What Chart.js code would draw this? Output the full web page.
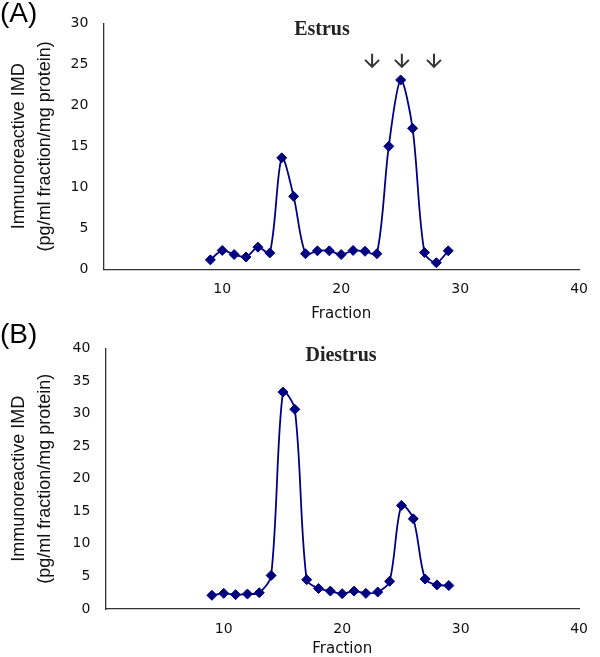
<!DOCTYPE html>
<html>
<head>
<meta charset="utf-8">
<title>Immunoreactive IMD - Estrus / Diestrus</title>
<script src="https://cdn.jsdelivr.net/npm/chart.js@4.4.1/dist/chart.umd.min.js"></script>
<style>
  html, body { margin: 0; padding: 0; background: #fff; }
  body { width: 600px; height: 657px; position: relative; overflow: hidden; font-family: "Liberation Sans", Arial, sans-serif; }
  canvas { position: absolute; left: 0; }
  #chartA { top: 0; }
  #chartB { top: 325px; }
  .panel { position: absolute; left: 0; font-size: 28px; line-height: 1; color: #000; }
  .title { position: absolute; transform: translateX(-50%); white-space: nowrap; line-height: 1;
           font-family: "Liberation Serif", "Times New Roman", serif; font-weight: bold; font-size: 20px; color: #222; }
</style>
</head>
<body>
<canvas id="chartA" width="600" height="325"></canvas>
<canvas id="chartB" width="600" height="332"></canvas>
<div class="panel" style="top:-1px">(A)</div>
<div class="panel" style="top:320px">(B)</div>
<div class="title" style="left:322px; top:18px">Estrus</div>
<div class="title" style="left:341px; top:344px">Diestrus</div>
<script>
// fractions collected (x)
const fractions = [9, 10, 11, 12, 13, 14, 15, 16, 17, 18, 19, 20, 21, 22, 23, 24, 25, 26, 27, 28, 29];

// immunoreactive IMD, pg/ml fraction / mg protein
const estrus = [1.15, 2.3, 1.8, 1.5, 2.7, 2.0, 13.6, 8.9, 1.9, 2.25, 2.25, 1.8, 2.3, 2.2, 1.9, 15.0, 23.1, 17.2, 2.05, 0.8, 2.25];
const diestrus = [2.1, 2.4, 2.2, 2.3, 2.5, 5.15, 33.3, 30.65, 4.5, 3.15, 2.75, 2.35, 2.75, 2.4, 2.6, 4.25, 15.9, 13.85, 4.6, 3.7, 3.6];

// tick labels
const xTicks = [10, 20, 30, 40];
const yTicksA = [0, 5, 10, 15, 20, 25, 30];
const yTicksB = [0, 5, 10, 15, 20, 25, 30, 35, 40];

// arrows over the estrus peak (fraction, from / to value)
const arrowFractions = [22.6, 25.1, 27.8];
const arrowFrom = 26.3;
const arrowTo = 24.7;

const navy = '#000080';
const axisColor = '#333';
const tickFont = { family: '"DejaVu Sans", sans-serif', size: 14 };

const arrowPlugin = {
  id: 'arrows',
  afterDatasetsDraw(chart) {
    const { ctx, scales: { x, y } } = chart;
    ctx.save();
    ctx.strokeStyle = '#333';
    ctx.lineWidth = 2;
    arrowFractions.forEach(f => {
      const px = x.getPixelForValue(f);
      const top = y.getPixelForValue(arrowFrom);
      const tip = y.getPixelForValue(arrowTo);
      ctx.beginPath();
      ctx.moveTo(px, top);
      ctx.lineTo(px, tip);
      ctx.moveTo(px - 7, tip - 7);
      ctx.lineTo(px, tip);
      ctx.lineTo(px + 7, tip - 7);
      ctx.stroke();
    });
    ctx.restore();
  }
};

function makeChart(id, values, yTicks, box, plugins) {
  const points = fractions.map((f, i) => ({ x: f, y: values[i] }));
  const canvas = document.getElementById(id);
  return new Chart(canvas, {
    type: 'line',
    data: {
      datasets: [{
        data: points,
        borderColor: navy,
        borderWidth: 1.8,
        backgroundColor: navy,
        pointStyle: 'rectRot',
        pointRadius: 5,
        pointBorderWidth: 1,
        pointBorderColor: navy,
        pointBackgroundColor: navy,
        tension: 0.3,
        fill: false
      }]
    },
    plugins: plugins || [],
    options: {
      responsive: false,
      animation: false,
      events: [],
      layout: { padding: { left: 0, top: box.top, right: canvas.width - box.right, bottom: 0 } },
      plugins: { legend: { display: false }, tooltip: { enabled: false } },
      scales: {
        x: {
          type: 'linear',
          min: 0,
          max: 40,
          afterBuildTicks: axis => { axis.ticks = xTicks.map(v => ({ value: v })); },
          afterFit: axis => { axis.height = canvas.height - box.bottom; },
          grid: { display: false, drawTicks: false },
          border: { display: true, color: axisColor, width: 1.3 },
          ticks: { color: '#111', font: tickFont, padding: 12, maxRotation: 0 },
          title: {
            display: true,
            text: 'Fraction',
            color: '#111',
            font: { family: '"DejaVu Sans", sans-serif', size: 15, lineHeight: 1 },
            padding: { top: 0, bottom: box.titleBottom }
          }
        },
        y: {
          type: 'linear',
          min: 0,
          max: yTicks[yTicks.length - 1],
          afterBuildTicks: axis => { axis.ticks = yTicks.map(v => ({ value: v })); },
          afterFit: axis => { axis.width = box.left; },
          grid: { display: false, drawTicks: false },
          border: { display: true, color: axisColor, width: 1.3 },
          ticks: { color: '#111', font: tickFont, padding: 15 },
          title: {
            display: true,
            text: ['Immunoreactive IMD', '(pg/ml fraction/mg protein)'],
            color: '#111',
            font: { family: '"Liberation Sans", Arial, sans-serif', size: 18, lineHeight: 1.45 },
            padding: { top: 6, bottom: 0 }
          }
        }
      }
    }
  });
}

makeChart('chartA', estrus, yTicksA, { left: 103.3, right: 580, top: 21, bottom: 269.3, titleBottom: 3.5 }, [arrowPlugin]);
makeChart('chartB', diestrus, yTicksB, { left: 105.3, right: 588.3, top: 19.5, bottom: 284, titleBottom: 0 });
</script>
</body>
</html>
